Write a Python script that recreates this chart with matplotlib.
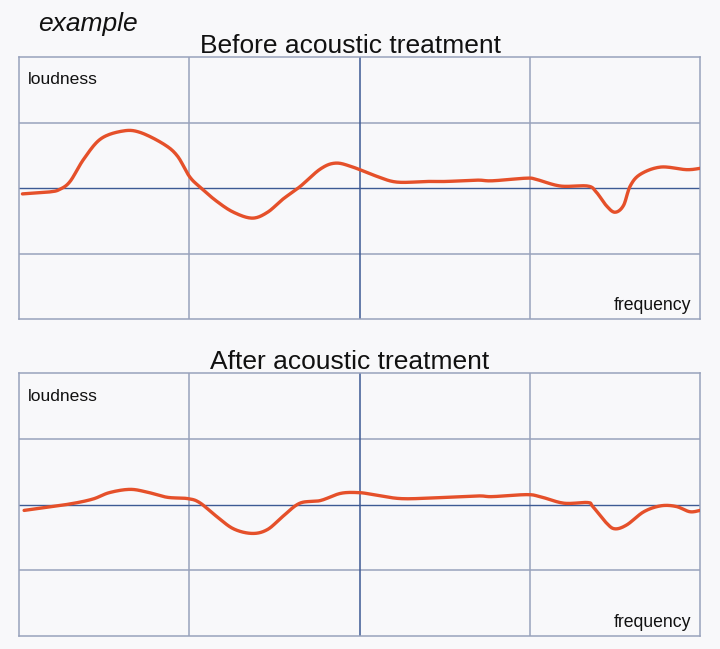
import numpy as np
import matplotlib
matplotlib.use('Agg')
import matplotlib.pyplot as plt

plt.rcParams['font.family'] = ['Liberation Sans', 'DejaVu Sans']

# frequency position (0..4 grid cells) and loudness (-2..2 grid cells)
before_x = [0.02, 0.18, 0.24, 0.30, 0.38, 0.48, 0.61, 0.71, 0.85, 0.93, 1.00, 1.06,
            1.16, 1.26, 1.37, 1.46, 1.55, 1.65, 1.77, 1.86, 1.96, 2.10, 2.22, 2.40,
            2.51, 2.69, 2.78, 2.98, 3.04, 3.18, 3.34, 3.39, 3.45, 3.50, 3.55, 3.59,
            3.65, 3.77, 3.92, 4.00]
before_y = [-0.09, -0.06, -0.02, 0.10, 0.44, 0.75, 0.87, 0.85, 0.67, 0.49, 0.18, 0.02,
            -0.20, -0.37, -0.46, -0.37, -0.17, 0.02, 0.29, 0.38, 0.32, 0.18, 0.09, 0.10,
            0.10, 0.12, 0.11, 0.15, 0.13, 0.03, 0.03, -0.06, -0.27, -0.37, -0.27, 0.03,
            0.21, 0.32, 0.28, 0.30]

after_x = [0.03, 0.28, 0.43, 0.53, 0.65, 0.75, 0.87, 0.99, 1.06, 1.16, 1.26, 1.37,
           1.46, 1.55, 1.65, 1.77, 1.89, 2.00, 2.08, 2.24, 2.43, 2.69, 2.78, 2.98,
           3.06, 3.20, 3.34, 3.37, 3.45, 3.50, 3.57, 3.67, 3.77, 3.86, 3.94, 4.00]
after_y = [-0.09, 0.00, 0.08, 0.18, 0.23, 0.19, 0.11, 0.09, 0.03, -0.18, -0.37, -0.44,
           -0.38, -0.18, 0.02, 0.06, 0.17, 0.18, 0.15, 0.09, 0.10, 0.13, 0.12, 0.15,
           0.12, 0.02, 0.03, -0.03, -0.28, -0.37, -0.31, -0.11, -0.02, -0.03, -0.11, -0.09]

titles = ['Before acoustic treatment', 'After acoustic treatment']


def smooth(xs, ys, n=20):
    # catmull-rom through the read points, just for a smooth pen stroke
    p = np.column_stack([xs, ys])
    p = np.vstack([p[0], p, p[-1]])
    out = []
    t = np.linspace(0, 1, n, endpoint=False)[:, None]
    for i in range(1, len(p) - 2):
        p0, p1, p2, p3 = p[i - 1], p[i], p[i + 1], p[i + 2]
        seg = 0.5 * ((2 * p1) + (-p0 + p2) * t + (2 * p0 - 5 * p1 + 4 * p2 - p3) * t ** 2
                     + (-p0 + 3 * p1 - 3 * p2 + p3) * t ** 3)
        out.append(seg)
    out.append(p[-2][None, :])
    out = np.vstack(out)
    return out[:, 0], out[:, 1]


bg = '#f8f8fa'
grid_c = '#98a2bc'
mid_c = '#3d5a94'
curve_c = '#e5502a'

fig = plt.figure(figsize=(7.2, 6.49), dpi=100, facecolor=bg)

boxes = [[19 / 720, 1 - 319 / 649, 681 / 720, 262 / 649],
         [19 / 720, 1 - 636 / 649, 681 / 720, 263 / 649]]
title_y = [1 - 53 / 649, 1 - 369 / 649]
freq_y = [1 - 310 / 649, 1 - 627 / 649]

for k, (xs, ys) in enumerate([(before_x, before_y), (after_x, after_y)]):
    ax = fig.add_axes(boxes[k])
    ax.set_facecolor(bg)
    ax.set_xlim(0, 4)
    ax.set_ylim(-2, 2)
    for v in [1, 3]:
        ax.axvline(v, color=grid_c, lw=1.1, zorder=1)
    for h in [-1, 1]:
        ax.axhline(h, color=grid_c, lw=1.1, zorder=1)
    ax.axvline(2, color=mid_c, lw=1.1, zorder=1)
    ax.axhline(0, color=mid_c, lw=1.0, zorder=1)
    sx, sy = smooth(xs, ys)
    ax.plot(sx, sy, color=curve_c, lw=2.4, solid_capstyle='round', zorder=3)
    ax.set_xticks([])
    ax.set_yticks([])
    for s in ax.spines.values():
        s.set_color(grid_c)
        s.set_linewidth(1.1)
    ax.text(9 / 170.25, 2 - 23 / 65.5, 'loudness', fontsize=12.6, color='#111111',
            ha='left', va='center')
    fig.text(691 / 720, freq_y[k], 'frequency', fontsize=12.7, color='#111111',
             ha='right', va='baseline')
    fig.text(350 / 720, title_y[k], titles[k], fontsize=19, color='#111111',
             ha='center', va='baseline')

fig.text(38 / 720, 1 - 31 / 649, 'example', fontsize=19, style='italic',
         color='#111111', ha='left', va='baseline')

fig.savefig('out.png', dpi=100, facecolor=bg)
